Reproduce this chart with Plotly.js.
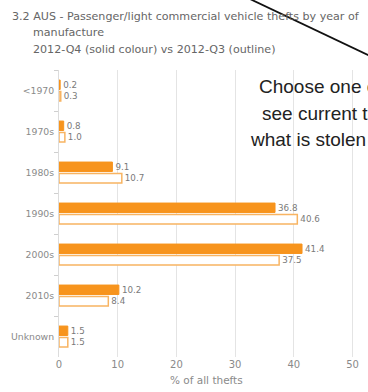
<!DOCTYPE html>
<html>
<head>
<meta charset="utf-8">
<script src="https://cdn.plot.ly/plotly-3.0.1.min.js"></script>
<style>html,body{margin:0;padding:0;background:#fff;} #chart{width:368px;height:392px;}</style>
</head>
<body>
<div id="chart"></div>
<script>
// Data
var categories = ["<1970", "1970s", "1980s", "1990s", "2000s", "2010s", "Unknown"];
var q4Values = [0.2, 0.8, 9.1, 36.8, 41.4, 10.2, 1.5];
var q3Values = [0.3, 1.0, 10.7, 40.6, 37.5, 8.4, 1.5];
var xTicks = [0, 10, 20, 30, 40, 50];

var W = 368, H = 392, ML = 59, MR = 0, MT = 70, MB = 35;
var pw = W - ML - MR, ph = H - MT - MB;
function px(x){ return (x - ML) / pw; }
function py(y){ return (H - MB - y) / ph; }

var FAM = "DejaVu Sans, Verdana, sans-serif";
var labelFont = {family: FAM, size: 10.2, color: "#7a7a7a"};

var traces = [
  {
    type: "bar", orientation: "h", name: "2012-Q4",
    y: categories, x: q4Values, texttemplate: "%{x:.1f}",
    textposition: "outside", cliponaxis: false,
    textfont: labelFont,
    marker: {color: "#f7941d", line: {color: "#f7941d", width: 1}},
    hoverinfo: "none"
  },
  {
    type: "bar", orientation: "h", name: "2012-Q3",
    y: categories, x: q3Values, texttemplate: "%{x:.1f}",
    textposition: "outside", cliponaxis: false,
    textfont: labelFont,
    marker: {color: "#ffffff", line: {color: "#f8b462", width: 1.5}},
    hoverinfo: "none"
  }
];

var titleFont = {family: FAM, size: 11.1, color: "#666666"};
var overlayFont = {family: "Liberation Sans, Arial, sans-serif", size: 19, color: "#222222"};

var layout = {
  width: W, height: H,
  margin: {l: ML, r: MR, t: MT, b: MB, pad: 0},
  paper_bgcolor: "#ffffff", plot_bgcolor: "#ffffff",
  showlegend: false,
  barmode: "group", bargap: 0.44, bargroupgap: 0.18,
  font: {family: FAM},
  xaxis: {
    range: [0, (W - ML - MR) / 5.87],
    tickvals: xTicks, ticktext: xTicks.map(String),
    showgrid: true, gridcolor: "#e4e4e4", gridwidth: 1,
    zeroline: false, showline: false, ticks: "",
    tickfont: {family: FAM, size: 10, color: "#8a8a8a"},
    fixedrange: true
  },
  yaxis: {
    type: "category", autorange: "reversed",
    showgrid: false, zeroline: false,
    showline: true, linecolor: "#dcdcdc", linewidth: 1,
    ticks: "outside", tickson: "boundaries", ticklen: 4, tickcolor: "#cfcfcf",
    ticklabelstandoff: 2,
    tickfont: {family: FAM, size: 9.3, color: "#8a8a8a"},
    fixedrange: true
  },
  annotations: [
    {xref: "paper", yref: "paper", x: px(10), y: py(16), xanchor: "left", yanchor: "middle", showarrow: false,
     text: "3.2 AUS - Passenger/light commercial vehicle thefts by year of", font: titleFont},
    {xref: "paper", yref: "paper", x: px(31), y: py(33), xanchor: "left", yanchor: "middle", showarrow: false,
     text: "manufacture", font: titleFont},
    {xref: "paper", yref: "paper", x: px(31), y: py(50), xanchor: "left", yanchor: "middle", showarrow: false,
     text: "2012-Q4 (solid colour) vs 2012-Q3 (outline)", font: titleFont},
    {xref: "paper", yref: "paper", x: px(206), y: py(380), xanchor: "center", yanchor: "middle", showarrow: false,
     text: "% of all thefts", font: {family: FAM, size: 10.5, color: "#8a8a8a"}},
    {xref: "paper", yref: "paper", x: px(257), y: py(86), xanchor: "left", yanchor: "middle", showarrow: false,
     text: "Choose one o", font: overlayFont},
    {xref: "paper", yref: "paper", x: px(260), y: py(113), xanchor: "left", yanchor: "middle", showarrow: false,
     text: "see current t", font: overlayFont},
    {xref: "paper", yref: "paper", x: px(248), y: py(139), xanchor: "left", yanchor: "middle", showarrow: false,
     text: "what is stolen", font: overlayFont}
  ],
  shapes: [
    {type: "line", xref: "paper", yref: "paper", x0: px(250), y0: py(-1), x1: px(372), y1: py(57),
     line: {color: "#111111", width: 1.8}, layer: "above"}
  ]
};

Plotly.newPlot("chart", traces, layout, {staticPlot: true, displayModeBar: false});
</script>
</body>
</html>
